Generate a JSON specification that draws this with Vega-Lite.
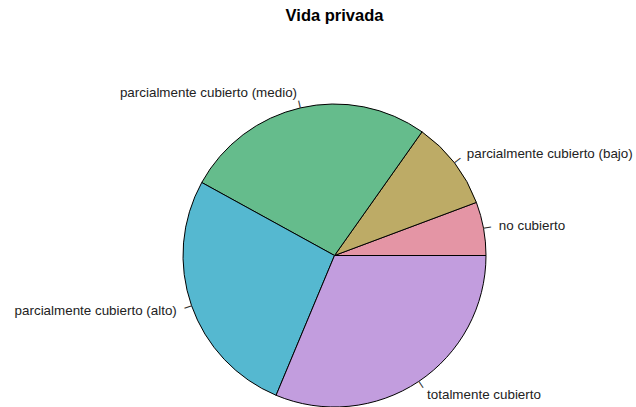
{
  "$schema": "https://vega.github.io/schema/vega-lite/v6.json",
  "width": 603,
  "height": 301,
  "autosize": {"type": "none"},
  "padding": {"left": 33, "top": 105, "right": 0, "bottom": 1},
  "background": "white",
  "title": {
    "text": "Vida privada",
    "font": "Liberation Sans",
    "fontSize": 16.5,
    "fontWeight": "bold",
    "color": "#000000",
    "anchor": "middle",
    "offset": 61
  },
  "data": {
    "values": [
      {"i": 1, "label": "no cubierto", "pct": 5.7},
      {"i": 2, "label": "parcialmente cubierto (bajo)", "pct": 9.5},
      {"i": 3, "label": "parcialmente cubierto (medio)", "pct": 26.8},
      {"i": 4, "label": "parcialmente cubierto (alto)", "pct": 26.7},
      {"i": 5, "label": "totalmente cubierto", "pct": 31.3}
    ]
  },
  "encoding": {
    "theta": {
      "field": "pct",
      "type": "quantitative",
      "stack": true,
      "scale": {"domain": [0, 100], "range": [1.5707963, -4.712389]}
    },
    "order": {"field": "i", "type": "quantitative"}
  },
  "layer": [
    {
      "mark": {"type": "arc", "outerRadius": 151.5, "stroke": "#000000", "strokeWidth": 1},
      "encoding": {
        "color": {
          "field": "label",
          "type": "nominal",
          "legend": null,
          "scale": {
            "domain": ["no cubierto", "parcialmente cubierto (bajo)", "parcialmente cubierto (medio)", "parcialmente cubierto (alto)", "totalmente cubierto"],
            "range": ["#E495A5", "#BDAB66", "#65BC8C", "#55B8D0", "#C29DDE"]
          }
        }
      }
    },
    {
      "mark": {
        "type": "text",
        "radius": 155.3,
        "text": "─",
        "font": "DejaVu Sans",
        "fontSize": 12.5,
        "color": "#333333",
        "align": "center",
        "baseline": "middle",
        "angle": {"expr": "-(datum.pct_start + datum.pct_end) * 1.8"}
      },
      "encoding": {}
    },
    {
      "mark": {
        "type": "text",
        "radius": 167,
        "font": "Liberation Sans",
        "fontSize": 13.4,
        "color": "#222222",
        "baseline": "middle",
        "align": {"expr": "cos((datum.pct_start + datum.pct_end) / 100 * PI) < 0 ? 'right' : 'left'"}
      },
      "encoding": {"text": {"field": "label", "type": "nominal"}}
    }
  ]
}
